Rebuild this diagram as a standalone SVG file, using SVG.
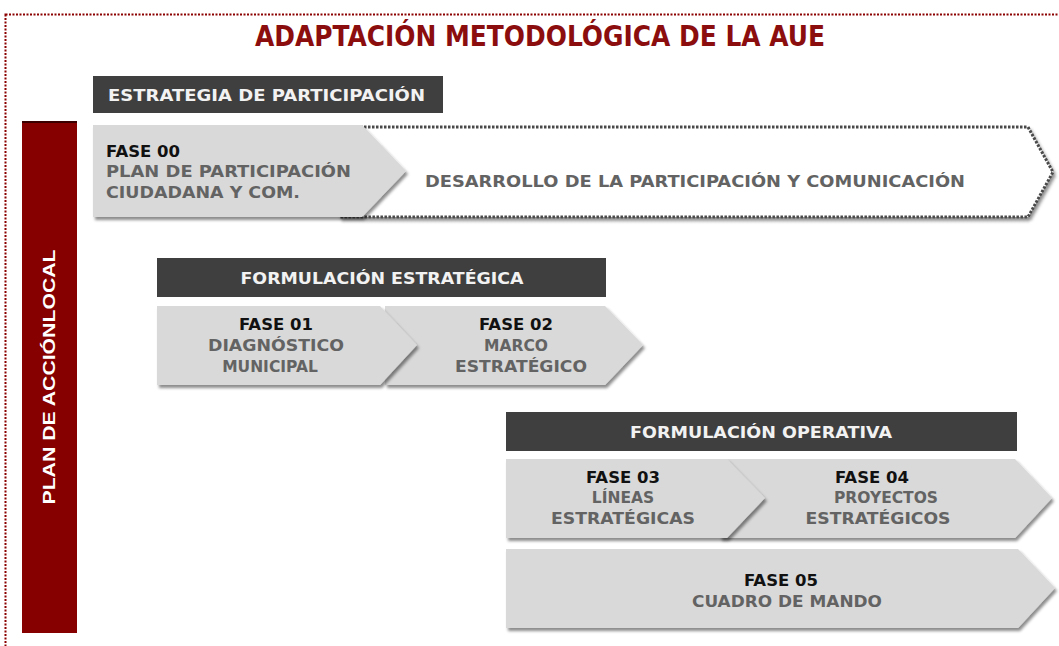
<svg xmlns="http://www.w3.org/2000/svg" width="1059" height="646" viewBox="0 0 1059 646">
<defs>
<filter id="sh" x="-5%" y="-10%" width="115%" height="130%">
<feDropShadow dx="2" dy="3" stdDeviation="1.5" flood-color="#000" flood-opacity="0.45"/>
</filter>
<style>
.hdr{fill:#3f3f3f}
.hdrt{fill:#f2f2f2;font-family:"DejaVu Sans",Verdana,sans-serif;font-weight:bold;font-size:15px;text-anchor:middle}
.arr{fill:#d9d9d9;filter:url(#sh)}
.ft{fill:#111;font-family:"DejaVu Sans",Verdana,sans-serif;font-weight:bold;font-size:16.5px}
.st{fill:#636363;font-family:"DejaVu Sans",Verdana,sans-serif;font-weight:bold;font-size:15.5px}
.c{text-anchor:middle}
</style>
</defs>
<rect width="1059" height="646" fill="#fff"/>
<rect x="5.5" y="14.5" width="1100" height="700" fill="none" stroke="#8b0000" stroke-width="2" stroke-dasharray="2 1.5"/>
<text x="540" y="46" fill="#8b0d0d" font-family="'DejaVu Sans Condensed','DejaVu Sans',sans-serif" font-weight="bold" font-size="28" text-anchor="middle" textLength="570" lengthAdjust="spacingAndGlyphs">ADAPTACIÓN METODOLÓGICA DE LA AUE</text>

<g id="plan-accion-local">
<rect x="22" y="121" width="55" height="512" fill="#870000"/>
<rect x="22" y="121" width="55" height="2" fill="#3a0000"/>
<text transform="translate(55,377) rotate(-90)" fill="#fff" font-family="'Liberation Sans',Arial,sans-serif" font-weight="bold" font-size="17" text-anchor="middle" textLength="255" lengthAdjust="spacingAndGlyphs">PLAN DE ACCIÓNLOCAL</text>
</g>

<g id="estrategia-participacion">
<rect class="hdr" x="93" y="76" width="350" height="37"/>
<text class="hdrt" x="108" y="101" style="text-anchor:start" textLength="317" lengthAdjust="spacingAndGlyphs">ESTRATEGIA  DE PARTICIPACIÓN</text>
</g>

<g id="desarrollo">
<path d="M340,127 H1028 L1053,172 L1028,217 H340 Z" fill="#fff" stroke="#4a4a4a" stroke-width="3" stroke-dasharray="2.5 1.5" filter="url(#sh)"/>
<text class="st" x="425" y="187" textLength="540" lengthAdjust="spacingAndGlyphs">DESARROLLO  DE LA PARTICIPACIÓN  Y COMUNICACIÓN</text>
</g>

<g id="fase00">
<path class="arr" d="M93,125 H362 L406,171 L362,217 H93 Z"/>
<text class="ft" x="106" y="157">FASE 00</text>
<text class="st" x="106" y="177" textLength="245" lengthAdjust="spacingAndGlyphs">PLAN  DE  PARTICIPACIÓN</text>
<text class="st" x="106" y="198" textLength="194" lengthAdjust="spacingAndGlyphs">CIUDADANA  Y COM.</text>
</g>

<g id="formulacion-estrategica">
<rect class="hdr" x="157" y="258" width="449" height="39"/>
<text class="hdrt" x="382" y="284" textLength="283" lengthAdjust="spacingAndGlyphs">FORMULACIÓN  ESTRATÉGICA</text>
</g>

<g id="fase02">
<path class="arr" d="M385,306 H605 L643,345 L605,385 H385 Z"/>
<text class="ft c" x="516" y="330">FASE 02</text>
<text class="st c" x="516" y="351">MARCO</text>
<text class="st c" x="521" y="372" textLength="132" lengthAdjust="spacingAndGlyphs">ESTRATÉGICO</text>
</g>

<g id="fase01">
<path class="arr" d="M157,306 H380 L417,345 L380,385 H157 Z"/>
<text class="ft c" x="276" y="330">FASE 01</text>
<text class="st c" x="276" y="351" textLength="136" lengthAdjust="spacingAndGlyphs">DIAGNÓSTICO</text>
<text class="st c" x="270" y="372">MUNICIPAL</text>
</g>

<g id="formulacion-operativa">
<rect class="hdr" x="506" y="412" width="511" height="39"/>
<text class="hdrt" x="761" y="438" textLength="262" lengthAdjust="spacingAndGlyphs">FORMULACIÓN  OPERATIVA</text>
</g>

<g id="fase04">
<path class="arr" d="M720,459 H1015 L1052,498 L1015,538 H720 Z"/>
<text class="ft c" x="872" y="483">FASE 04</text>
<text class="st c" x="886" y="503">PROYECTOS</text>
<text class="st c" x="878" y="524" textLength="145" lengthAdjust="spacingAndGlyphs">ESTRATÉGICOS</text>
</g>

<g id="fase03">
<path class="arr" d="M506,459 H727 L765,498 L727,538 H506 Z"/>
<text class="ft c" x="623" y="483">FASE 03</text>
<text class="st c" x="623" y="503">LÍNEAS</text>
<text class="st c" x="623" y="524" textLength="144" lengthAdjust="spacingAndGlyphs">ESTRATÉGICAS</text>
</g>

<g id="fase05">
<path class="arr" d="M506,549 H1018 L1055,588 L1018,628 H506 Z"/>
<text class="ft c" x="781" y="586">FASE 05</text>
<text class="st c" x="787" y="607" textLength="190" lengthAdjust="spacingAndGlyphs">CUADRO  DE  MANDO</text>
</g>
</svg>
